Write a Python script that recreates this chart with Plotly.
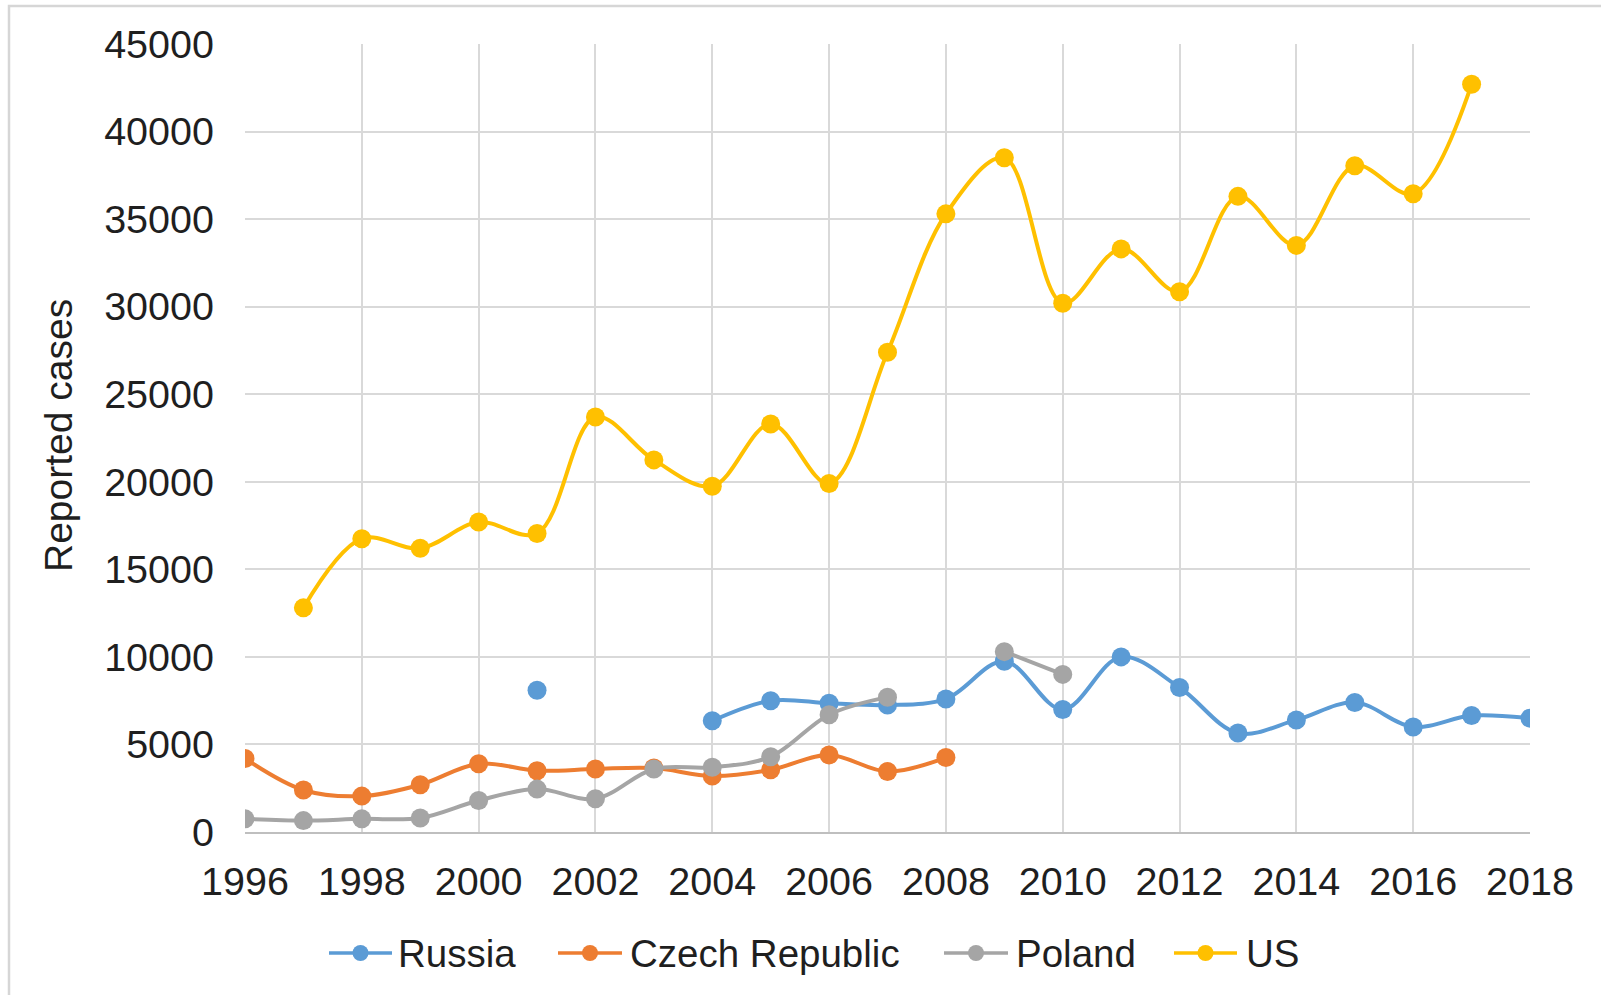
import plotly.graph_objects as go

years = list(range(1996, 2019))

russia = [None, None, None, None, None, 8100, None, None, 6350, 7500, 7350, 7250, 7600,
          9750, 7000, 10000, 8250, 5650, 6400, 7400, 6000, 6650, 6500]
czech = [4200, 2400, 2050, 2700, 3900, 3500, 3600, 3650, 3200, 3550, 4400, 3450, 4250,
         None, None, None, None, None, None, None, None, None, None]
poland = [750, 650, 750, 800, 1800, 2450, 1900, 3600, 3700, 4300, 6700, 7700, None,
          10300, 9000, None, None, None, None, None, None, None, None]
us = [None, 12800, 16750, 16200, 17700, 17050, 23700, 21250, 19750, 23300, 19900, 27400, 35300,
      38500, 30200, 33300, 30850, 36300, 33500, 38050, 36450, 42700, None]

series_names = ["Russia", "Czech Republic", "Poland", "US"]
series_values = [russia, czech, poland, us]
colors = ["#5B9BD5", "#ED7D31", "#A5A5A5", "#FFC000"]

y_ticks = list(range(0, 45001, 5000))
x_ticks = list(range(1996, 2019, 2))

W, H = 1601, 995
L, R, T, B = 245, 1530, 44, 832
FONT = "Liberation Sans, Arial, sans-serif"
TXT = "#1f1f1f"

fig = go.Figure()
for name, vals, col in zip(series_names, series_values, colors):
    fig.add_trace(go.Scatter(
        x=years, y=vals, name=name, mode="lines+markers",
        line=dict(color=col, width=4, shape="spline", smoothing=1),
        marker=dict(color=col, size=19),
        connectgaps=False, showlegend=False,
    ))

def px2paper_x(px):
    return (px - L) / (R - L)

def px2paper_y(py):
    return (B - py) / (B - T)

shapes = []
annotations = []
# custom legend (line segments, dots, labels)
legend_items = [(329, 392, 396), (558, 622, 628), (944, 1008, 1014), (1174, 1237, 1244)]
leg_y = 953
for (x0, x1, xt), name, col in zip(legend_items, series_names, colors):
    shapes.append(dict(type="line", xref="paper", yref="paper",
                       x0=px2paper_x(x0), x1=px2paper_x(x1),
                       y0=px2paper_y(leg_y), y1=px2paper_y(leg_y),
                       line=dict(color=col, width=3.5)))
    shapes.append(dict(type="circle", xref="paper", yref="paper",
                       xsizemode="pixel", ysizemode="pixel",
                       xanchor=px2paper_x((x0 + x1) / 2), yanchor=px2paper_y(leg_y),
                       x0=-8, x1=8, y0=-8, y1=8,
                       fillcolor=col, line=dict(width=0)))
    annotations.append(dict(text=name, xref="paper", yref="paper",
                            x=px2paper_x(xt), y=px2paper_y(leg_y),
                            xanchor="left", yanchor="middle", showarrow=False,
                            font=dict(family=FONT, size=38.5, color=TXT)))

# outer frame
shapes.append(dict(type="rect", xref="paper", yref="paper",
                   x0=px2paper_x(9), x1=px2paper_x(1620),
                   y0=px2paper_y(1010), y1=px2paper_y(6),
                   line=dict(color="#D6D6D6", width=2.5), layer="below"))

annotations.append(dict(text="Reported cases", xref="paper", yref="paper",
                        x=px2paper_x(58), y=px2paper_y(436), textangle=-90,
                        xanchor="center", yanchor="middle", showarrow=False,
                        font=dict(family=FONT, size=39, color=TXT)))

fig.update_layout(
    width=W, height=H,
    margin=dict(l=L, r=W - R, t=T, b=H - B),
    paper_bgcolor="white", plot_bgcolor="white",
    shapes=shapes, annotations=annotations,
    showlegend=False,
    font=dict(family=FONT, color=TXT),
)
fig.update_xaxes(
    range=[1996, 2018], tickvals=x_ticks, ticktext=[str(v) for v in x_ticks],
    showgrid=True, gridcolor="#D9D9D9", gridwidth=1.5,
    showline=True, linecolor="#BFBFBF", linewidth=2, zeroline=False,
    ticks="", ticklabelstandoff=14,
    tickfont=dict(family=FONT, size=39.5, color=TXT),
)
fig.update_yaxes(
    range=[0, 45000], tickvals=y_ticks, ticktext=[str(v) for v in y_ticks],
    showgrid=True, gridcolor="#D9D9D9", gridwidth=1.5,
    showline=False, zeroline=False,
    ticks="", ticklabelstandoff=30,
    tickfont=dict(family=FONT, size=39.5, color=TXT),
)

fig.write_html("out.html")
